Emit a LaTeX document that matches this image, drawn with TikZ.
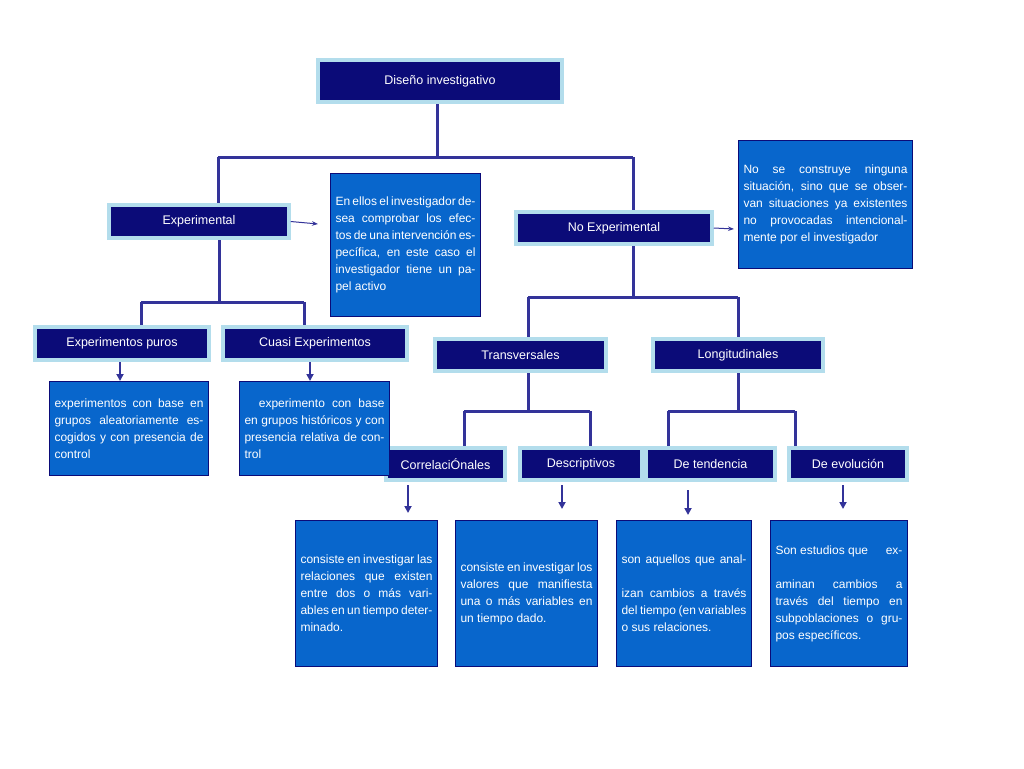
\documentclass[tikz,border=0pt]{standalone}
\usepackage{fontspec}
\setmainfont{Liberation Sans}
\usetikzlibrary{arrows.meta}
\definecolor{navy}{HTML}{0B0B78}
\definecolor{edge}{HTML}{B3DDEC}
\definecolor{descb}{HTML}{0866CC}
\definecolor{lnk}{HTML}{333399}
\begin{document}
\begin{tikzpicture}[x=1pt,y=-1pt,
 hd/.style={draw=edge,line width=3.5pt,fill=navy,text=white,font=\fontsize{12.5}{15}\selectfont,inner sep=0pt},
 ds/.style={draw=navy,line width=1pt,fill=descb,text=white,font=\fontsize{12}{17}\selectfont,inner sep=5pt,align=justify,anchor=north west},
 ln/.style={draw=lnk,line width=3pt},
 ar/.style={draw=lnk,line width=2pt,-{Triangle[length=7pt,width=7pt]}},
 ar2/.style={draw=lnk,line width=1pt,-{Stealth[length=6pt]}}]
\useasboundingbox (0,0) rectangle (1024,768);
\fill[white] (0,0) rectangle (1024,768);
\newcommand{\hdbox}[6]{\node[hd,minimum width=#4-#2,minimum height=#5-#3] (#1) at ({(#2+#4)/2},{(#3+#5)/2}) {#6};}
\newcommand{\dsbox}[6]{\pgfmathsetmacro\tw{#4-#2-10}\pgfmathsetmacro\th{#5-#3}\node[ds,text width=\tw pt,minimum height=\th pt] (#1) at (#2,#3) {#6};}
% connectors (behind)
\coordinate (t1) at (437,157); \coordinate (l1) at (218,157); \coordinate (r1) at (633,157);
\draw[ln] (437,100) -- (t1); \draw[ln] (l1) -- (r1);
\draw[ln] (l1) -- (218,205); \draw[ln] (r1) -- (633,212);
\draw[ln] (219,238) -- (219,302); \draw[ln] (141,302) -- (304,302);
\draw[ln] (141,302) -- (141,327); \draw[ln] (304,302) -- (304,327);
\draw[ln] (633,244) -- (633,297); \draw[ln] (528,297) -- (738,297);
\draw[ln] (528,297) -- (528,339); \draw[ln] (738,297) -- (738,339);
\draw[ln] (528,371) -- (528,411); \draw[ln] (464,411) -- (590,411);
\draw[ln] (464,411) -- (464,448); \draw[ln] (590,411) -- (590,448);
\draw[ln] (738,371) -- (738,411); \draw[ln] (668,411) -- (795,411);
\draw[ln] (668,411) -- (668,448); \draw[ln] (795,411) -- (795,448);
% headers
\hdbox{dis}{318}{60}{562}{102}{Diseño investigativo}
\hdbox{exp}{109}{205}{289}{238}{Experimental}
\hdbox{nex}{516}{212}{712}{244}{No Experimental}
\hdbox{pur}{35}{327}{209}{360}{Experimentos puros}
\hdbox{cua}{223}{327}{407}{360}{Cuasi Experimentos}
\hdbox{tra}{435}{339}{606}{371}{Transversales}
\hdbox{lon}{653}{339}{823}{371}{Longitudinales}
\hdbox{cor}{386}{448}{505}{480}{CorrelaciÓnales}
\hdbox{des}{520}{448}{642}{480}{Descriptivos}
\hdbox{ten}{646}{448}{775}{480}{De tendencia}
\hdbox{evo}{789}{448}{907}{480}{De evolución}
% descriptions
\dsbox{d1}{330}{173}{480}{316}{En ellos el investigador desea comprobar los efectos de una intervención específica, en este caso el investigador tiene un papel activo}
\dsbox{d2}{738}{140}{912}{268}{No se construye ninguna situación, sino que se observan situaciones ya existentes no provocadas intencionalmente por el investigador}
\dsbox{d3}{49}{381}{208}{475}{experimentos con base en grupos aleatoriamente escogidos y con presencia de control}
\dsbox{d4}{239}{381}{389}{475}{\hspace*{1.2em}experimento con base en grupos históricos y con presencia relativa de control}
\dsbox{d5}{295}{520}{437}{666}{consiste en investigar las relaciones que existen entre dos o más variables en un tiempo determinado.}
\dsbox{d6}{455}{520}{597}{666}{consiste en investigar los valores que manifiesta una o más variables en un tiempo dado.}
\dsbox{d7}{616}{520}{751}{666}{\vspace*{17pt}son aquellos que analizan cambios a través del tiempo (en variables o sus relaciones.}
\dsbox{d8}{770}{520}{907}{666}{\vspace*{17pt}Son estudios que \hspace*{1.2em}examinan cambios a través del tiempo en subpoblaciones o grupos específicos.}
% arrows
\coordinate (e1) at (318,224); \coordinate (e2) at (734,229);
\draw[ar2] (exp.east) -- (e1);
\draw[ar2] (nex.east) -- (e2);
\draw[ar] (120,362) -- (120,381);
\draw[ar] (310,362) -- (310,381);
\draw[ar] (408,485) -- (408,513);
\draw[ar] (562,485) -- (562,509);
\draw[ar] (688,490) -- (688,515);
\draw[ar] (843,485) -- (843,509);
\end{tikzpicture}
\end{document}
